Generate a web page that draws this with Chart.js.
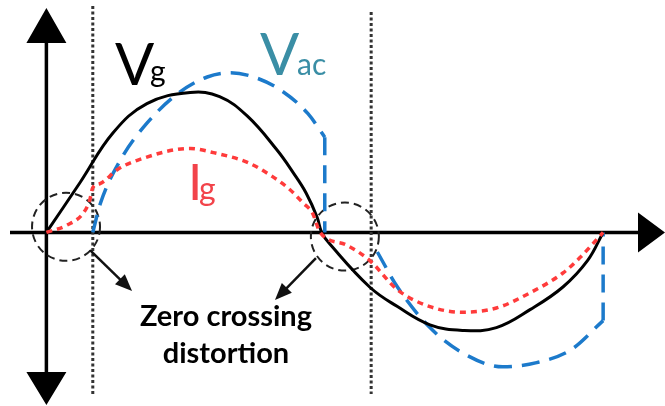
<!DOCTYPE html>
<html>
<head>
<meta charset="utf-8">
<script src="https://cdn.jsdelivr.net/npm/chart.js@4/dist/chart.umd.min.js"></script>
<style>
	html, body { margin:0; padding:0; background:#fff; }
	canvas { display:block; }
</style>
</head>
<body>
<canvas id="c" width="665" height="406"></canvas>
<script>
// phase in degrees, value relative to the Vg peak
const vgPhase = [0, 22, 43, 65, 93, 112, 130, 149, 160, 168, 175, 178, 183, 209, 227, 248, 269, 291, 313, 334, 350, 360]
const vgValue = [0, 0.36, 0.71, 0.92, 1.0, 0.97, 0.83, 0.59, 0.42, 0.28, 0.11, 0, -0.08, -0.39, -0.53, -0.66, -0.70, -0.68, -0.55, -0.39, -0.20, 0]

const igPhase = [0, 13, 24, 28, 30, 35, 46, 60, 93, 108, 130, 146, 157, 166, 172, 177, 194, 209, 227, 248, 269, 291, 313, 334, 345, 360]
const igValue = [0, 0.05, 0.14, 0.23, 0.32, 0.35, 0.45, 0.52, 0.6, 0.57, 0.5, 0.4, 0.31, 0.21, 0.14, 0, -0.09, -0.2, -0.41, -0.53, -0.57, -0.54, -0.43, -0.29, -0.18, 0]

const vacPhase = [30, 35, 48, 65, 86, 104, 119, 134, 151, 169, 180, null, 214, 227, 248, 269, 295, 317, 339, 360]
const vacValue = [0, 0.21, 0.52, 0.78, 1.0, 1.11, 1.14, 1.11, 1.02, 0.85, 0.68, null, -0.14, -0.39, -0.68, -0.86, -0.96, -0.93, -0.84, -0.63]
// vertical steps of Vac back to zero
const vacStepPhase = [180, 180, null, 360, 360]
const vacStepValue = [0.68, 0, null, -0.63, 0]

// delay of Vac behind Vg, where the dotted markers sit
const lagLines = [30, 210]
// zero crossing regions [phase, value]
const zeroRegions = [[12.7, 0.04], [193, -0.03]]

const pts = (xs, ys) => xs.map((x, i) => ({x:x, y:ys[i]}))

const arrow = (ctx, x1, y1, x2, y2) => {
	const a = Math.atan2(y2 - y1, x2 - x1), L = 17, W = 7
	ctx.beginPath()
	ctx.moveTo(x1, y1)
	ctx.lineTo(x2 - L * Math.cos(a) * 0.8, y2 - L * Math.sin(a) * 0.8)
	ctx.stroke()
	ctx.beginPath()
	ctx.moveTo(x2, y2)
	ctx.lineTo(x2 - L * Math.cos(a) + W * Math.sin(a), y2 - L * Math.sin(a) - W * Math.cos(a))
	ctx.lineTo(x2 - L * Math.cos(a) - W * Math.sin(a), y2 - L * Math.sin(a) + W * Math.cos(a))
	ctx.closePath()
	ctx.fill()
}

const decor = {
	id:'decor',
	beforeDatasetsDraw: c => {
		const ctx = c.ctx, X = v => c.scales.x.getPixelForValue(v), Y = v => c.scales.y.getPixelForValue(v)
		const x0 = X(0), y0 = Y(0)
		ctx.save()
		ctx.fillStyle = '#000'
		ctx.strokeStyle = '#000'
		// axes
		ctx.lineWidth = 3.5
		ctx.beginPath()
		ctx.moveTo(x0, 40); ctx.lineTo(x0, 375)
		ctx.moveTo(10, y0); ctx.lineTo(640, y0)
		ctx.stroke()
		ctx.beginPath()
		ctx.moveTo(x0, 8); ctx.lineTo(x0 - 20, 43); ctx.lineTo(x0 + 20, 43); ctx.closePath()
		ctx.moveTo(x0, 405); ctx.lineTo(x0 - 20, 372); ctx.lineTo(x0 + 20, 372); ctx.closePath()
		ctx.moveTo(665, y0); ctx.lineTo(638, y0 - 20); ctx.lineTo(638, y0 + 20); ctx.closePath()
		ctx.fill()
		// dotted markers
		ctx.strokeStyle = '#333'
		ctx.lineWidth = 3
		ctx.setLineDash([3, 2.5])
		lagLines.forEach((p, i) => {
			ctx.beginPath()
			ctx.moveTo(X(p), i ? 12 : 6); ctx.lineTo(X(p), 394)
			ctx.stroke()
		})
		// dashed circles
		ctx.strokeStyle = '#222'
		ctx.lineWidth = 2
		ctx.setLineDash([8, 5])
		zeroRegions.forEach(r => {
			ctx.beginPath()
			ctx.arc(X(r[0]), Y(r[1]), 34, 0, Math.PI * 2)
			ctx.stroke()
		})
		ctx.restore()
	},
	afterDatasetsDraw: c => {
		const ctx = c.ctx, X = v => c.scales.x.getPixelForValue(v), Y = v => c.scales.y.getPixelForValue(v)
		ctx.save()
		ctx.fillStyle = '#111'
		ctx.strokeStyle = '#111'
		ctx.lineWidth = 2.5
		arrow(ctx, X(28.2), Y(-0.126), X(55.4), Y(-0.419))
		arrow(ctx, X(174.3), Y(-0.183), X(147.8), Y(-0.483))

		ctx.textBaseline = 'alphabetic'
		ctx.textAlign = 'center'
		ctx.font = 'bold 29px Lato'
		ctx.fillStyle = '#000'
		ctx.fillText('Zero crossing', X(116.1), Y(-0.669), 182)
		ctx.fillText('distortion', X(116.1), Y(-0.933), 134)

		ctx.textAlign = 'left'
		// Vg
		ctx.font = '58px Lato'
		ctx.fillText('V', X(44.4), Y(1.053))
		ctx.font = '30px Lato'
		ctx.fillText('g', X(44.4) + 35, Y(1.053) - 3)
		// Vac
		ctx.fillStyle = '#3A8EA5'
		ctx.font = '58px Lato'
		ctx.fillText('V', X(138.1), Y(1.124))
		ctx.font = '30px Lato'
		ctx.fillText('ac', X(138.1) + 37, Y(1.124))
		// Ig
		ctx.fillStyle = '#F2434A'
		ctx.font = '51px Lato'
		ctx.fillText('I', X(91.6), Y(0.231))
		ctx.font = '32px Lato'
		ctx.fillText('g', X(91.6) + 11, Y(0.231))
		ctx.restore()
	}
}

const vacStyle = {
	showLine: true,
	borderColor: '#1C7ACB',
	borderWidth: 3.5,
	borderDash: [18, 10],
	pointRadius: 0,
}

new Chart(document.getElementById('c'), {
	type: 'scatter',
	data: {
		datasets: [{
			label: 'Ig',
			data: pts(igPhase, igValue),
			showLine: true,
			borderColor: '#FF3B3B',
			borderWidth: 3.5,
			borderDash: [6, 5],
			pointRadius: 0,
			cubicInterpolationMode: 'monotone',
		},
		{
			label: 'Vg',
			data: pts(vgPhase, vgValue),
			showLine: true,
			borderColor: '#000',
			borderWidth: 3,
			pointRadius: 0,
			tension: 0.4,
		},
		Object.assign({
			label: 'Vac',
			data: pts(vacPhase, vacValue),
			cubicInterpolationMode: 'monotone',
		}, vacStyle),
		Object.assign({
			label: 'Vac step',
			data: pts(vacStepPhase, vacStepValue),
			tension: 0,
		}, vacStyle),
		]
	},
	options: {
		responsive: false,
		animation: false,
		devicePixelRatio: 1,
		layout: { padding: 0 },
		plugins: {
			legend: { display: false },
			tooltip: { enabled: false },
		},
		scales: {
			x: { type: 'linear', min: -30, max: 400, display: false },
			y: { type: 'linear', min: -1.24, max: 1.66, display: false },
		},
	},
	plugins: [decor]
})
</script>
</body>
</html>
